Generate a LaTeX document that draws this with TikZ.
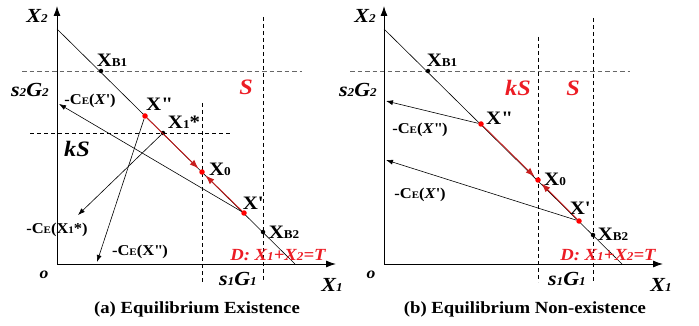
\documentclass[tikz,border=0pt]{standalone}
\usepackage{fontspec}
\setmainfont[FakeStretch=1.1]{Liberation Serif}
\usepackage{tikz}
\usetikzlibrary{arrows.meta}
\definecolor{lblred}{RGB}{236,28,36}
\definecolor{segred}{RGB}{200,30,30}
\newcommand{\smallsub}[1]{{\fontsize{12}{12}\selectfont #1}}
\newcommand{\tinysub}[1]{{\fontsize{10}{10}\selectfont #1}}
\newcommand{\ptlbl}[2]{{\fontsize{19}{19}\selectfont\bfseries #1\smallsub{#2}}}
\newcommand{\celbl}[1]{{\fontsize{15}{15}\selectfont\bfseries -C\tinysub{E}(#1)}}

\begin{document}
\begin{tikzpicture}[x=1pt,y=-1pt,
  axis/.style={line width=0.9pt,-{Latex[length=10pt,width=7pt]}},
  gdash/.style={black!60,dashed,line width=0.9pt,dash pattern=on 4.5pt off 3pt},
  kdash/.style={black,dashed,line width=0.7pt,dash pattern=on 4pt off 3pt},
  celine/.style={line width=0.6pt,-{Latex[length=7pt,width=5pt]}},
  redseg/.style={segred,line width=0.9pt,-{Latex[length=9pt,width=6.5pt]},shorten >=2pt},
  bdot/.style={circle,fill=black,inner sep=0pt,minimum size=4.5pt},
  rdot/.style={circle,fill=red,inner sep=0pt,minimum size=5.5pt},
  bigit/.style={font=\fontsize{20}{20}\selectfont\bfseries\itshape},
  redit/.style={font=\fontsize{22}{22}\selectfont\bfseries\itshape,text=lblred},
  caption/.style={font=\fontsize{17}{17}\selectfont\bfseries}]
\useasboundingbox (0,0) rectangle (699,326);

% ---------------- (a) Equilibrium Existence ----------------
\coordinate (aO) at (57,264);
\coordinate (aYtop) at (57,6);
\coordinate (aXend) at (336,264);
\coordinate (aDtop) at (57,29);
\coordinate (aDbot) at (295,264);
\coordinate (aEp) at (59,104);
\coordinate (aEs) at (78,215);
\coordinate (aEpp) at (97,262);

\draw[gdash] (22,71) -- (302,71);
\draw[kdash] (263,17) -- (263,282);
\draw[kdash] (30,133) -- (232,133);
\draw[kdash] (202,103) -- (202,282);

\draw[axis] (aO) -- (aYtop);
\draw[axis] (aO) -- (aXend);
\draw[line width=0.6pt] (aDtop) -- (aDbot);

\node[bdot] (aB1) at (101,71) {};
\node[bdot] (aB2) at (263,232) {};
\node[rdot] (aXpp) at (145,116) {};
\node[bdot] (aXs) at (163,133) {};
\node[rdot] (aX0) at (202,172) {};
\node[rdot] (aXp) at (244,213) {};

\draw[redseg] (aXpp) -- (aX0);
\draw[redseg] (aXp) -- (aX0);
\draw[celine] (aXp) -- (aEp);
\draw[celine] (aXs) -- (aEs);
\draw[celine] (aXpp) -- (aEpp);

\node[bigit] (aX2) at (37,16) {X\smallsub{2}};
\node[bigit] (aX1) at (332,285) {X\smallsub{1}};
\node[font=\fontsize{16}{16}\selectfont\bfseries\itshape] (aOlbl) at (44,275) {o};
\node[bigit] (aS2G2) at (30,90) {s\smallsub{2}G\smallsub{2}};
\node[bigit] (aS1G1) at (238,279) {s\smallsub{1}G\smallsub{1}};
\node[redit] (aSlbl) at (246,87) {S};
\node[bigit,font=\fontsize{22}{22}\selectfont\bfseries\itshape] (akS) at (77,149) {kS};
\node (aB1lbl) at (112,60) {\ptlbl{X}{B1}};
\node (aB2lbl) at (284,232) {\ptlbl{X}{B2}};
\node (aXpplbl) at (159,104) {\ptlbl{X\textquotedbl}{}};
\node (aXslbl) at (184,122) {\ptlbl{X}{1}{\fontsize{19}{19}\selectfont\bfseries*}};
\node (aX0lbl) at (220,169) {\ptlbl{X}{0}};
\node (aXplbl) at (253,203) {\ptlbl{X\textquotesingle}{}};
\node (aCEp) at (90,101) {\celbl{\textit{X}\textquotesingle}};
\node (aCEs) at (57,230) {\celbl{X\tinysub{1}*}};
\node (aCEpp) at (140,252) {\celbl{X\textquotedbl}};
\node[font=\fontsize{17}{17}\selectfont\bfseries\itshape,text=lblred] (aDlbl) at (278,255) {D: X\smallsub{1}+X\smallsub{2}=T};
\node[caption] (acap) at (197,309) {(a) Equilibrium Existence};

% ---------------- (b) Equilibrium Non-existence ----------------
\coordinate (bO) at (384,264);
\coordinate (bYtop) at (384,6);
\coordinate (bXend) at (663,264);
\coordinate (bDtop) at (384,29);
\coordinate (bDbot) at (622,264);
\coordinate (bEpp) at (386,101);
\coordinate (bEp) at (386,160);

\draw[gdash] (350,71) -- (630,71);
\draw[kdash] (538,37) -- (538,282);
\draw[kdash] (593,18) -- (593,282);

\draw[axis] (bO) -- (bYtop);
\draw[axis] (bO) -- (bXend);
\draw[line width=0.6pt] (bDtop) -- (bDbot);

\node[bdot] (bB1) at (428,71) {};
\node[bdot] (bB2) at (593,235) {};
\node[rdot] (bXpp) at (481,124) {};
\node[rdot] (bX0) at (538,180) {};
\node[rdot] (bXp) at (579,221) {};

\draw[redseg] (bXpp) -- (bX0);
\draw[redseg] (bXp) -- (bX0);
\draw[celine] (bXpp) -- (bEpp);
\draw[celine] (bXp) -- (bEp);

\node[bigit] (bX2) at (365,16) {X\smallsub{2}};
\node[bigit] (bX1) at (661,285) {X\smallsub{1}};
\node[font=\fontsize{16}{16}\selectfont\bfseries\itshape] (bOlbl) at (371,275) {o};
\node[bigit] (bS2G2) at (358,90) {s\smallsub{2}G\smallsub{2}};
\node[bigit] (bS1G1) at (567,279) {s\smallsub{1}G\smallsub{1}};
\node[redit] (bkS) at (518,88) {kS};
\node[redit] (bSlbl) at (573,88) {S};
\node (bB1lbl) at (442,60) {\ptlbl{X}{B1}};
\node (bB2lbl) at (613,234) {\ptlbl{X}{B2}};
\node (bXpplbl) at (499,118) {\ptlbl{X\textquotedbl}{}};
\node (bX0lbl) at (555,179) {\ptlbl{X}{0}};
\node (bXplbl) at (580,208) {\ptlbl{X\textquotesingle}{}};
\node (bCEpp) at (420,130) {\celbl{\textit{X}\textquotedbl}};
\node (bCEp) at (420,195) {\celbl{\textit{X}\textquotesingle}};
\node[font=\fontsize{17}{17}\selectfont\bfseries\itshape,text=lblred] (bDlbl) at (608,255) {D: X\smallsub{1}+X\smallsub{2}=T};
\node[caption] (bcap) at (525,309) {(b) Equilibrium Non-existence};
\end{tikzpicture}
\end{document}
